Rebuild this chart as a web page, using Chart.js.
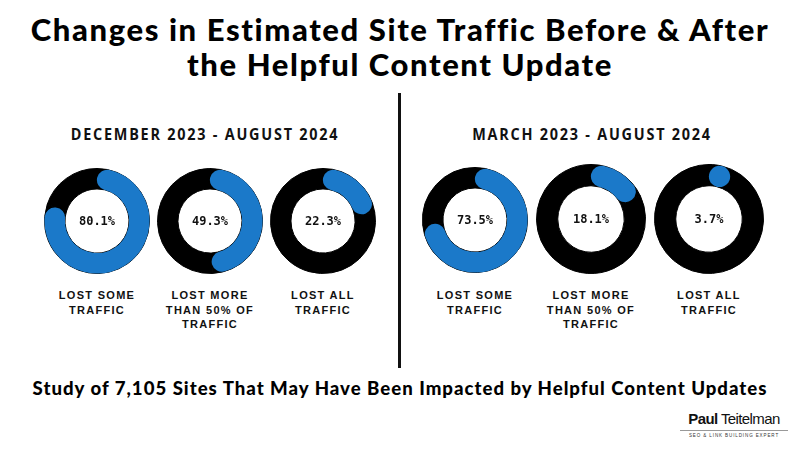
<!DOCTYPE html>
<html>
<head>
<meta charset="utf-8">
<script src="https://cdn.jsdelivr.net/npm/chart.js@4"></script>
<style>
  html, body { margin: 0; padding: 0; background: #fff; }
  #stage { position: relative; width: 800px; height: 450px; overflow: hidden; background: #fff; }
  .abs { position: absolute; }
  #title { left: 0; top: 12px; width: 800px; text-align: center; font-family: Lato, sans-serif; font-weight: 900; font-size: 31px; line-height: 35px; letter-spacing: 1.6px; color: #000; }
  .period { top: 123px; width: 380px; text-align: center; font-family: "Open Sans", sans-serif; font-weight: 700; font-size: 15.5px; letter-spacing: 1.9px; color: #111; transform: scaleX(0.93); }
  .cat { top: 288px; width: 130px; text-align: center; font-family: "Liberation Sans", Arial, sans-serif; font-weight: 700; font-size: 11px; line-height: 14.5px; letter-spacing: 1.3px; color: #111; }
  #divider { left: 398px; top: 93px; width: 2.5px; height: 275px; background: #111; }
  #subtitle { left: 0; top: 377px; width: 800px; text-align: center; font-family: Lato, sans-serif; font-weight: 900; font-size: 18.6px; letter-spacing: 1px; color: #000; }
  #logo { left: 680px; top: 410px; width: 108px; text-align: center; color: #111; }
  #logo .name { font-family: "Liberation Sans", Arial, sans-serif; font-size: 15px; letter-spacing: -0.6px; line-height: 18px; }
  #logo .rule { height: 1px; background: #999; margin: 2px 0 2px 0; }
  #logo .tag { font-family: "Liberation Sans", Arial, sans-serif; font-size: 4.5px; letter-spacing: 0.9px; line-height: 6px; color: #333; }
  canvas { display: block; }
</style>
</head>
<body>
<div id="stage">
  <div id="title" class="abs">Changes in Estimated Site Traffic Before &amp; After<br>the Helpful Content Update</div>
  <div id="divider" class="abs"></div>
  <div id="subtitle" class="abs">Study of 7,105 Sites That May Have Been Impacted by Helpful Content Updates</div>
  <div id="logo" class="abs"><div class="name"><b>Paul</b> Teitelman</div><div class="rule"></div><div class="tag">SEO &amp; LINK BUILDING EXPERT</div></div>
</div>
<script>
// ---- data ----
const periods = ['DECEMBER 2023 - AUGUST 2024', 'MARCH 2023 - AUGUST 2024'];
const categories = ['LOST SOME TRAFFIC', 'LOST MORE THAN 50% OF TRAFFIC', 'LOST ALL TRAFFIC'];
const categoryLines = [['LOST SOME', 'TRAFFIC'], ['LOST MORE', 'THAN 50% OF', 'TRAFFIC'], ['LOST ALL', 'TRAFFIC']];
const decAugValues = [80.1, 49.3, 22.3];
const marAugValues = [73.5, 18.1, 3.7];

// ---- layout (styling only) ----
const BLUE = '#1b79c9';
const periodCenters = [205, 592];
const donutLayout = [
  [{cx: 97, cy: 221, r: 52}, {cx: 210, cy: 221, r: 52}, {cx: 323, cy: 221, r: 52}],
  [{cx: 475, cy: 220, r: 52}, {cx: 591, cy: 219, r: 54}, {cx: 709, cy: 219, r: 54}]
];

const stage = document.getElementById('stage');

const roundArcPlugin = {
  id: 'roundArc',
  afterDatasetsDraw(chart) {
    const meta = chart.getDatasetMeta(0);
    const arc = meta.data[0];
    const p = arc.getProps(['x', 'y', 'startAngle', 'endAngle', 'innerRadius', 'outerRadius'], true);
    const w = p.outerRadius - p.innerRadius;
    const rm = (p.outerRadius + p.innerRadius) / 2;
    const capA = (w / 2) / rm;
    const a0 = p.startAngle + capA;
    const a1 = p.endAngle - capA;
    const ctx = chart.ctx;
    ctx.save();
    ctx.fillStyle = BLUE;
    ctx.strokeStyle = BLUE;
    if (a1 - a0 < 0.01) {
      ctx.beginPath();
      ctx.arc(p.x + rm * Math.cos(a0), p.y + rm * Math.sin(a0), w / 2, 0, Math.PI * 2);
      ctx.fill();
    } else {
      ctx.lineWidth = w;
      ctx.lineCap = 'round';
      ctx.beginPath();
      ctx.arc(p.x, p.y, rm, a0, a1);
      ctx.stroke();
    }
    // center label
    const v = chart.data.datasets[0].data[0];
    ctx.fillStyle = '#111';
    ctx.font = 'bold 12px "DejaVu Sans Mono", monospace';
    ctx.textAlign = 'center';
    ctx.textBaseline = 'middle';
    ctx.fillText(v.toFixed(1) + '%', p.x, p.y + 1);
    ctx.restore();
  }
};

function addDonut(value, lay, label) {
  const size = lay.r * 2 + 2;
  const holder = document.createElement('div');
  holder.className = 'abs';
  holder.style.left = (lay.cx - size / 2) + 'px';
  holder.style.top = (lay.cy - size / 2) + 'px';
  holder.style.width = size + 'px';
  holder.style.height = size + 'px';
  const cv = document.createElement('canvas');
  holder.appendChild(cv);
  stage.appendChild(holder);
  new Chart(cv, {
    type: 'doughnut',
    data: {
      labels: [label, 'Other'],
      datasets: [{
        data: [value, 100 - value],
        backgroundColor: ['#000', '#000'],
        borderColor: '#000',
        borderWidth: 1,
        hoverOffset: 0
      }]
    },
    options: {
      responsive: true,
      maintainAspectRatio: false,
      animation: false,
      cutout: '61%',
      layout: { padding: 0 },
      plugins: { legend: { display: false }, tooltip: { enabled: false } },
      events: []
    },
    plugins: [roundArcPlugin]
  });
}

[decAugValues, marAugValues].forEach((vals, g) => {
  const ph = document.createElement('div');
  ph.className = 'abs period';
  ph.textContent = periods[g];
  ph.style.left = (periodCenters[g] - 190) + 'px';
  stage.appendChild(ph);
  vals.forEach((v, i) => {
    const lay = donutLayout[g][i];
    addDonut(v, lay, categories[i]);
    const c = document.createElement('div');
    c.className = 'abs cat';
    c.style.left = (lay.cx - 65) + 'px';
    c.innerHTML = categoryLines[i].join('<br>');
    stage.appendChild(c);
  });
});
</script>
</body>
</html>
